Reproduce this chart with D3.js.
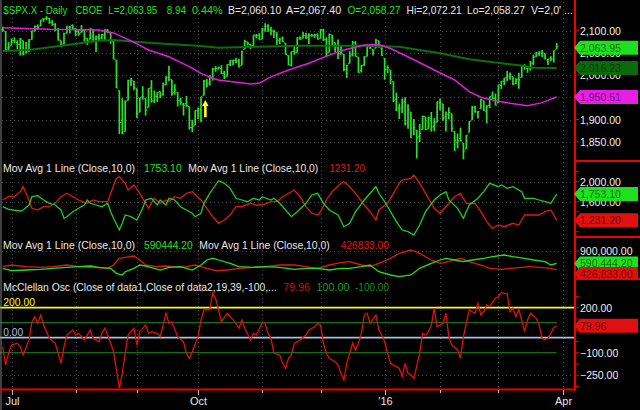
<!DOCTYPE html>
<html><head><meta charset="utf-8">
<script src="https://cdn.jsdelivr.net/npm/d3@7"></script>
<style>html,body{margin:0;padding:0;background:#000;overflow:hidden}svg{display:block}text{font-family:Arial,"Liberation Sans",sans-serif}</style>
</head><body><svg id="c" width="640" height="410"></svg>
<script>
// ---------------- DATA ----------------
const monthIndex = [3,25,46,67,89,109,131,150,170,192];
const monthLabels = ["Jul","","","Oct","","","'16","","","Apr"];

const open = [2102.6,2098.6,2061.2,2067.0,2078.0,2073.0,2069.5,2077.7,2049.7,2052.7,
2080.0,2099.7,2109.0,2110.6,2126.8,2126.9,2127.6,2118.2,2114.2,2102.2,
2078.2,2070.2,2094.7,2106.8,2111.6,2104.5,2097.7,2095.3,2100.8,2082.6,
2080.9,2102.7,2081.1,2086.2,2083.2,2089.7,2101.0,2095.7,2076.6,2034.1,
1965.2,1898.1,1872.8,1942.8,1986.1,1986.7,1970.1,1916.5,1950.8,1947.8,
1927.3,1971.5,1941.6,1951.5,1963.1,1955.1,1978.0,1995.3,1989.7,1960.8,
1961.4,1943.2,1934.8,1935.9,1929.2,1881.9,1887.1,1919.7,1921.8,1954.3,
1986.6,1982.3,1994.0,2014.0,2015.7,2015.0,2003.7,1996.5,2024.4,2031.7,
2033.1,2033.5,2021.9,2058.2,2075.1,2068.8,2066.5,2088.4,2090.0,2080.8,
2102.6,2110.6,2101.7,2098.6,2096.6,2077.2,2083.4,2072.3,2044.6,2022.1,
2053.7,2051.0,2083.7,2082.8,2089.4,2084.4,2089.3,2088.8,2090.9,2082.9,
2101.7,2080.7,2051.2,2090.4,2073.4,2061.2,2047.9,2047.3,2013.4,2025.6,
2046.5,2073.8,2040.8,2010.3,2023.2,2042.2,2063.5,2057.8,2060.5,2077.3,
2060.6,2038.2,2013.8,2011.7,1985.3,1946.0,1926.1,1927.8,1940.3,1891.7,
1916.7,1888.7,1876.2,1861.5,1877.4,1906.3,1878.8,1902.5,1885.2,1894.0,
1936.9,1935.3,1907.1,1911.7,1913.1,1873.3,1848.5,1857.1,1847.0,1833.4,
1871.4,1898.8,1927.6,1916.7,1924.4,1942.4,1917.6,1931.9,1955.0,1947.1,
1937.1,1976.6,1985.6,1994.0,1996.1,1996.9,1981.4,1991.0,1994.7,2019.3,
2015.3,2014.2,2026.9,2041.2,2047.9,2048.6,2048.6,2032.5,2037.9,2035.8,
2058.27];
const high = [2108.9,2098.6,2074.3,2082.8,2085.1,2078.6,2083.7,2077.7,2074.3,2081.3,
2100.7,2111.9,2114.1,2124.4,2128.0,2132.8,2128.9,2124.1,2116.9,2106.0,
2078.2,2095.6,2110.6,2110.5,2114.2,2105.7,2102.5,2112.7,2103.3,2082.6,
2105.4,2102.7,2089.1,2092.9,2092.5,2102.9,2103.5,2096.2,2076.6,2034.2,
1965.2,1948.0,1943.1,1989.6,1993.5,1986.7,1970.1,1948.9,1975.0,1947.8,
1970.4,1988.6,1965.3,1961.1,1963.1,1983.2,1997.3,2020.9,1989.7,1979.6,
1961.4,1949.5,1937.2,1952.9,1929.2,1899.5,1920.5,1927.2,1951.4,1989.2,
1991.6,1999.3,2016.5,2020.1,2019.0,2022.3,2009.6,2024.2,2033.5,2034.5,
2039.1,2037.0,2055.2,2079.7,2075.1,2070.4,2090.4,2092.5,2094.3,2106.2,
2116.5,2114.6,2108.8,2101.9,2096.6,2083.7,2086.9,2072.3,2044.6,2053.2,
2066.7,2085.3,2086.7,2097.1,2095.6,2094.1,2093.0,2093.3,2093.8,2103.4,
2104.3,2085.0,2093.8,2090.4,2073.4,2080.3,2067.7,2047.3,2022.9,2053.9,
2076.7,2076.4,2040.8,2022.9,2042.7,2064.7,2067.4,2057.8,2081.6,2077.3,
2062.5,2038.2,2021.9,2011.7,1985.3,1960.4,1935.7,1947.4,1950.3,1934.5,
1916.7,1901.4,1876.2,1889.9,1908.9,1906.3,1906.7,1917.0,1903.0,1940.2,
1947.2,1935.3,1918.0,1927.4,1913.1,1873.3,1868.3,1881.6,1847.0,1864.8,
1895.8,1930.7,1930.5,1918.8,1946.7,1942.4,1932.1,1951.8,1963.0,1958.3,
1978.4,1986.5,1993.7,2009.1,2006.1,1996.9,1992.7,2005.1,2022.4,2024.6,
2015.9,2032.0,2046.2,2052.4,2053.9,2056.6,2048.6,2036.0,2042.7,2055.9,
2072.21];
const low = [2097.7,2056.6,2056.3,2067.0,2071.0,2058.4,2044.0,2044.7,2049.7,2052.7,
2080.0,2098.2,2102.5,2110.6,2119.9,2123.7,2115.4,2110.9,2098.6,2077.1,
2063.5,2069.1,2094.1,2094.1,2102.1,2087.3,2088.6,2095.3,2075.5,2067.9,
2080.9,2076.5,2052.1,2078.3,2080.6,2079.3,2094.1,2070.5,2035.7,1970.9,
1867.0,1867.1,1872.8,1942.8,1975.2,1966.0,1903.1,1916.5,1944.7,1908.7,
1927.3,1937.9,1937.2,1939.2,1948.3,1954.3,1977.9,1986.7,1953.5,1955.8,
1929.2,1932.6,1908.9,1928.0,1876.9,1872.0,1887.1,1900.7,1893.7,1954.3,
1971.9,1976.4,1987.5,2007.6,2012.4,2001.8,1990.7,1996.5,2020.5,2022.3,
2026.6,2017.2,2021.9,2058.2,2066.5,2058.8,2063.1,2082.6,2079.3,2080.8,
2097.5,2097.0,2090.4,2083.7,2068.2,2069.9,2074.9,2045.7,2022.0,2019.4,
2045.9,2051.0,2078.8,2082.8,2081.4,2070.3,2086.3,2084.1,2080.4,2082.9,
2077.1,2042.4,2051.2,2066.8,2052.3,2036.5,2045.7,2008.8,1993.3,2025.6,
2042.4,2041.7,2005.3,2005.9,2020.5,2042.2,2058.7,2044.2,2060.5,2062.0,
2043.6,1989.7,2004.2,1979.1,1938.8,1918.5,1901.1,1914.4,1886.3,1878.9,
1857.8,1864.6,1812.3,1849.0,1877.4,1876.0,1878.8,1872.7,1873.7,1894.0,
1920.3,1897.3,1872.7,1900.5,1872.7,1828.5,1834.9,1850.3,1810.1,1833.4,
1871.4,1898.8,1915.1,1902.2,1924.4,1919.4,1891.0,1925.4,1945.8,1931.8,
1937.1,1968.8,1977.4,1986.8,1989.4,1977.4,1979.8,1969.3,1994.7,2012.1,
2005.2,2010.0,2022.2,2041.2,2043.1,2040.6,2034.9,2022.5,2032.0,2028.3,
2058.27];
const close = [2101.5,2057.6,2063.1,2077.4,2076.8,2068.8,2081.3,2046.7,2051.3,2076.6,
2099.6,2109.0,2107.4,2124.3,2126.6,2128.3,2119.2,2114.2,2102.2,2079.7,
2067.6,2093.3,2108.6,2108.6,2103.8,2098.0,2093.3,2099.8,2083.6,2077.6,
2104.2,2084.1,2086.1,2083.4,2091.5,2102.4,2096.9,2079.6,2035.7,1970.9,
1893.2,1867.6,1940.5,1987.7,1988.9,1972.2,1913.9,1948.9,1951.1,1921.2,
1969.4,1942.0,1952.3,1961.1,1953.0,1978.1,1995.3,1990.2,1958.0,1967.0,
1942.7,1938.8,1932.2,1931.3,1881.8,1884.1,1920.0,1923.8,1951.4,1987.1,
1979.9,1995.8,2013.4,2014.9,2017.5,2003.7,1994.2,2023.9,2033.1,2033.7,
2030.8,2018.9,2052.5,2075.2,2071.2,2065.9,2090.4,2089.4,2079.4,2104.1,
2109.8,2102.3,2099.9,2099.2,2078.6,2081.7,2075.0,2046.0,2023.0,2053.2,
2050.4,2083.6,2081.2,2089.2,2086.6,2089.1,2088.9,2090.1,2080.4,2102.6,
2079.5,2049.6,2091.7,2077.1,2063.6,2047.6,2052.2,2012.4,2021.9,2043.4,
2073.1,2041.9,2005.6,2021.2,2039.0,2064.3,2061.0,2056.5,2078.4,2063.4,
2043.9,2012.7,2016.7,1990.3,1943.1,1922.0,1923.7,1938.7,1890.3,1921.8,
1880.3,1881.3,1859.3,1869.0,1906.9,1877.1,1903.6,1883.0,1893.4,1940.2,
1939.4,1903.0,1912.5,1915.5,1880.1,1853.4,1852.2,1851.9,1829.1,1864.8,
1895.6,1926.8,1917.8,1917.8,1945.5,1921.3,1929.8,1951.7,1948.1,1932.2,
1978.4,1986.5,1993.4,2000.0,2001.8,1979.3,1989.3,1989.6,2022.2,2019.6,
2015.9,2027.2,2040.6,2049.6,2051.6,2049.8,2036.7,2035.9,2037.1,2055.01,
2063.95];
const bidAsk = ["B=2,060.10","A=2,067.40"];
const volumeText = "V=2,0' ...";

// moving averages: [barIndex, value]
const ma50 = [[0,2106.8],[16,2103],[33,2101.6],[38,2095],[44,2077],[50,2056.5],[57,2041.4],[64,2019],[68,2004],[72,1993],[74,1989],[85,1980],[88,1982],[92,1996],[98,2011.5],[105,2026.6],[112,2045],[117,2056.5],[124,2068],[129,2069],[133,2060],[140,2038],[148,2011.5],[155,1989],[160,1962.6],[164,1950],[169,1942.3],[174,1936.5],[180,1931],[185,1938],[190,1950.51]];
const ma200 = [[0,2054],[9,2056.5],[20,2066],[33,2077.5],[38,2079],[50,2073],[68,2065.5],[74,2061.7],[88,2064],[102,2066],[123,2066],[136,2064],[143,2056.5],[150,2049],[160,2035.6],[171,2026.6],[179,2020.5],[181,2016.4],[190,2016.23]];
const arrowMark = {i:69.5, top:1944, bottom:1905};

const advMA = [[0,1500],[2,1448],[6,1414],[7,1434],[9,1534],[10,1700],[12,1720],[14,1634],[16,1568],[18,1534],[20,1434],[21,1268],[22,1300],[24,1400],[26,1468],[28,1534],[29,1634],[30,1568],[32,1534],[34,1500],[36,1568],[37,1400],[38,1268],[40,1034],[41,1168],[42,1334],[44,1300],[46,1234],[48,1468],[49,1634],[51,1668],[53,1534],[54,1634],[56,1534],[57,1668],[59,1634],[61,1500],[63,1434],[65,1368],[66,1300],[68,1368],[69,1568],[71,1768],[73,1934],[74,2020],[76,1968],[78,1868],[80,1668],[82,1634],[84,1600],[86,1668],[88,1634],[89,1700],[92,1634],[93,1668],[95,1568],[97,1434],[99,1300],[101,1400],[104,1568],[106,1734],[108,1768],[110,1568],[112,1434],[115,1334],[117,1100],[119,1168],[121,1400],[124,1634],[126,1768],[128,1900],[129,1768],[131,1600],[133,1400],[135,1200],[137,1034],[139,1000],[141,934],[143,1134],[145,1400],[148,1634],[150,1734],[152,1800],[153,1634],[156,1468],[158,1268],[160,1534],[163,1668],[165,1800],[167,1968],[170,1900],[171,1934],[173,1868],[175,1900],[178,1800],[179,1668],[182,1668],[184,1634],[186,1600],[188,1568],[190,1753.1]];
const decMA = [[0,1634],[2,1700],[4,1700],[6,1800],[7,1900],[9,1634],[10,1468],[12,1434],[14,1500],[16,1500],[18,1568],[20,1700],[22,1768],[24,1700],[26,1634],[29,1568],[31,1634],[33,1600],[36,1600],[37,1768],[39,2068],[40,2100],[42,1968],[43,1834],[45,1934],[47,1768],[49,1568],[50,1468],[52,1668],[54,1568],[56,1634],[57,1600],[59,1700],[61,1668],[63,1768],[65,1800],[68,1634],[70,1468],[72,1300],[74,1168],[76,1234],[78,1334],[80,1500],[82,1500],[85,1568],[87,1534],[89,1534],[92,1600],[94,1600],[96,1700],[99,1800],[100,1834],[102,1700],[104,1500],[106,1368],[108,1334],[109,1400],[111,1634],[113,1800],[116,1968],[117,2000],[119,1900],[121,1768],[124,1534],[126,1400],[128,1234],[129,1434],[132,1568],[134,1768],[136,1968],[137,2034],[140,2068],[141,2134],[143,1968],[145,1768],[148,1468],[150,1368],[152,1500],[155,1700],[157,1768],[159,1568],[162,1568],[164,1400],[166,1200],[168,1068],[170,1134],[172,1100],[175,1168],[177,1134],[179,1334],[182,1334],[184,1334],[186,1400],[188,1434],[190,1231.2]];

const advVolMA = [[0,467500],[3,407500],[8,425000],[13,442500],[17,467500],[22,492500],[26,507500],[30,525000],[33,492500],[37,467500],[39,342500],[41,300000],[42,382500],[45,467500],[47,550000],[49,525000],[52,467500],[54,425000],[57,492500],[61,507500],[63,467500],[65,425000],[68,550000],[70,675000],[72,717500],[74,675000],[78,592500],[81,507500],[86,492500],[90,507500],[95,492500],[100,442500],[104,467500],[108,467500],[112,425000],[116,467500],[119,467500],[123,507500],[126,550000],[129,382500],[133,300000],[136,257500],[140,300000],[143,467500],[147,592500],[150,675000],[152,717500],[155,675000],[158,632500],[161,675000],[165,717500],[168,757500],[172,800000],[175,757500],[179,717500],[182,675000],[186,632500],[188,550000],[190,590444.2]];
const decVolMA = [[0,507500],[3,550000],[8,507500],[13,492500],[17,507500],[22,550000],[26,507500],[31,492500],[36,467500],[38,550000],[40,717500],[42,742500],[45,775000],[47,675000],[49,550000],[53,507500],[56,525000],[60,492500],[63,507500],[66,550000],[70,467500],[73,407500],[77,425000],[81,467500],[86,492500],[90,507500],[95,550000],[100,550000],[104,507500],[108,467500],[112,550000],[116,607500],[119,632500],[123,550000],[126,507500],[129,592500],[133,717500],[136,842500],[140,925000],[143,842500],[147,675000],[150,592500],[153,632500],[157,717500],[160,632500],[164,550000],[167,467500],[171,442500],[174,467500],[178,492500],[181,507500],[184,492500],[188,467500],[190,426833]];

const mcclellan = [[0,-60],[1,-182],[2,-104],[3,-49],[5,-37],[6,-60],[7,-115],[9,-15],[10,107],[11,140],[12,96],[13,151],[14,85],[16,-4],[18,-37],[19,-104],[20,-171],[21,-60],[22,18],[24,51],[25,18],[26,29],[28,-15],[30,51],[31,-4],[33,-27],[34,29],[35,63],[36,18],[38,-93],[39,-215],[40,-337],[41,-237],[42,-104],[43,18],[45,63],[46,-49],[47,40],[49,85],[50,29],[51,40],[53,29],[54,7],[55,85],[56,163],[57,96],[58,107],[60,7],[62,-27],[63,-104],[64,-137],[65,-93],[67,7],[68,118],[69,185],[71,185],[72,296],[73,263],[74,185],[75,107],[77,163],[78,140],[80,96],[81,63],[82,118],[83,63],[85,-15],[86,29],[87,18],[89,100],[90,96],[91,29],[92,-4],[93,-104],[95,-115],[96,-171],[97,-204],[98,-137],[99,-115],[100,-37],[102,-15],[104,18],[105,51],[107,73],[108,96],[109,85],[110,-37],[111,-104],[112,-137],[114,-160],[115,-182],[116,-237],[117,-282],[118,-171],[120,-37],[121,-82],[122,-37],[123,29],[124,151],[125,163],[126,96],[128,151],[129,51],[130,18],[131,-27],[132,-104],[133,-171],[135,-193],[136,-204],[137,-260],[138,-171],[139,-237],[140,-249],[141,-271],[143,-104],[144,29],[145,18],[146,40],[147,85],[148,196],[149,73],[151,96],[152,163],[153,7],[154,-49],[156,-82],[157,-137],[158,7],[159,96],[160,185],[162,163],[163,229],[164,151],[165,173],[166,218],[167,207],[169,263],[170,273],[171,300],[173,291],[174,173],[175,196],[176,140],[177,189],[178,118],[179,40],[180,118],[181,163],[183,129],[184,85],[185,-4],[186,-15],[187,-4],[188,29],[189,69],[190,79.96]];
const mccLevels = [200,100,0,-100];

const priceTicks = [1850,1900,1950,2000,2050,2100];
const priceLabelTicks = [1850,1900,2000,2050,2100];
const advTicks = [1000,1200,1400,1600,1800,2000,2200,2400];
const advLabelTicks = [1600,2000];
const volTicks = [300000,600000,900000];
const volLabelTicks = [900000];
const mccTicks = [-325,-250,-175,-100,-25,50,125,200,275];
const mccLabelTicks = [-250,-100,200];

// ---------------- CHART ----------------
const svg = d3.select("#c");
svg.append("rect").attr("width",640).attr("height",410).attr("fill","#000");
const R = 574;
const panels = [{t:0,b:161},{t:161,b:237},{t:237,b:279},{t:279,b:389}];
const defs = svg.append("defs");
panels.forEach((p,k)=>{
  defs.append("clipPath").attr("id","cp"+k).append("rect").attr("x",0).attr("y",p.t).attr("width",R).attr("height",p.b-p.t);
  defs.append("clipPath").attr("id","cr"+k).append("rect").attr("x",R).attr("y",p.t).attr("width",640-R).attr("height",p.b-p.t);
});

const xS = d3.scaleLinear().domain([3,190]).range([11.5,556.7]);
const yP = d3.scaleLinear().domain([1850,2100]).range([141.7,30.7]);
const yA = d3.scaleLinear().domain([1600,2000]).range([201.7,181.7]);
const yV = d3.scaleLinear().domain([600000,900000]).range([263,251]);
const yM = d3.scaleLinear().domain([-100,200]).range([352.7,307.7]);

const fmt = d3.format(",.2f");
const grid = svg.append("g").attr("stroke","#4a4a4a").attr("stroke-width",1).attr("stroke-dasharray","1,3");
monthIndex.forEach(i=>{
  grid.append("line").attr("x1",Math.round(xS(i))+0.5).attr("x2",Math.round(xS(i))+0.5).attr("y1",2).attr("y2",389);
});
const hgrid = (vals, sc) => vals.forEach(v=>grid.append("line").attr("x1",2).attr("x2",R).attr("y1",Math.round(sc(v))+0.5).attr("y2",Math.round(sc(v))+0.5));
hgrid(priceTicks, yP);
hgrid(advLabelTicks, yA);
hgrid([900000], yV);
hgrid([-250], yM);

// ---- price panel ----
const gP = svg.append("g").attr("clip-path","url(#cp0)");
const bars = gP.append("g").attr("stroke","#2ae02a").attr("stroke-width",1.7);
close.forEach((c,i)=>{
  const x = xS(i);
  bars.append("line").attr("x1",x).attr("x2",x).attr("y1",yP(high[i])).attr("y2",yP(low[i]));
  bars.append("line").attr("x1",x-1.5).attr("x2",x).attr("y1",yP(open[i])).attr("y2",yP(open[i])).attr("stroke-width",1);
  bars.append("line").attr("x1",x).attr("x2",x+1.5).attr("y1",yP(c)).attr("y2",yP(c)).attr("stroke-width",1);
});
const lineP = d3.line().x(d=>xS(d[0])).y(d=>yP(d[1]));
gP.append("path").attr("d",lineP(ma200)).attr("fill","none").attr("stroke","#0d6e0d").attr("stroke-width",2);
gP.append("path").attr("d",lineP(ma50)).attr("fill","none").attr("stroke","#e01ee0").attr("stroke-width",1.5);
{
  const ax = xS(arrowMark.i), at = yP(arrowMark.top), ab = yP(arrowMark.bottom);
  gP.append("path").attr("fill","#ffff22")
    .attr("d",`M${ax},${at} L${ax+3.2},${at+6} L${ax+1.3},${at+6} L${ax+1.3},${ab} L${ax-1.3},${ab} L${ax-1.3},${at+6} L${ax-3.2},${at+6} Z`);
}

// ---- adv/dec issues ----
const g2 = svg.append("g").attr("clip-path","url(#cp1)");
const lA = d3.line().x(d=>xS(d[0])).y(d=>yA(d[1]));
g2.append("path").attr("d",lA(decMA)).attr("fill","none").attr("stroke","#dd1a1a").attr("stroke-width",1.3);
g2.append("path").attr("d",lA(advMA)).attr("fill","none").attr("stroke","#22cc22").attr("stroke-width",1.3);

// ---- adv/dec volume ----
const g3 = svg.append("g").attr("clip-path","url(#cp2)");
const lV = d3.line().x(d=>xS(d[0])).y(d=>yV(d[1]));
g3.append("path").attr("d",lV(decVolMA)).attr("fill","none").attr("stroke","#dd1a1a").attr("stroke-width",1.3);
g3.append("path").attr("d",lV(advVolMA)).attr("fill","none").attr("stroke","#22dd22").attr("stroke-width",1.3);

// ---- McClellan ----
const g4 = svg.append("g").attr("clip-path","url(#cp3)");
const lastX = xS(mcclellan[mcclellan.length-1][0]);
const levelStyle = {"200":["#ffff00",1.8,R],"100":["#1a8a1a",1,lastX],"0":["#a9bfe0",1.8,R],"-100":["#1a8a1a",1,lastX]};
mccLevels.forEach(v=>{
  const s = levelStyle[String(v)];
  g4.append("line").attr("x1",0).attr("x2",s[2]).attr("y1",yM(v)).attr("y2",yM(v)).attr("stroke",s[0]).attr("stroke-width",s[1]);
});
const lM = d3.line().x(d=>xS(d[0])).y(d=>yM(d[1]));
g4.append("path").attr("d",lM(mcclellan)).attr("fill","none").attr("stroke","#e01010").attr("stroke-width",1.3);

// ---- frame ----
svg.append("line").attr("x1",1).attr("x2",1).attr("y1",0).attr("y2",410).attr("stroke","#808080").attr("stroke-width",1);
svg.append("line").attr("x1",0).attr("x2",R+1).attr("y1",389.5).attr("y2",389.5).attr("stroke","#ee0000").attr("stroke-width",2);
svg.append("line").attr("x1",R+1).attr("x2",R+1).attr("y1",0).attr("y2",390.5).attr("stroke","#ee0000").attr("stroke-width",2);
[161,237,279].forEach(y=>svg.append("line").attr("x1",R).attr("x2",640).attr("y1",y).attr("y2",y).attr("stroke","#ee0000").attr("stroke-width",2));

// x axis ticks / labels
monthIndex.forEach((i,k)=>{
  const x = Math.round(xS(i))+0.5;
  svg.append("line").attr("x1",x).attr("x2",x).attr("y1",390).attr("y2",monthLabels[k]?395:393).attr("stroke","#bbbbbb");
  if (monthLabels[k]) svg.append("text").attr("x",x).attr("y",405).attr("text-anchor","middle").attr("fill","#e6e6e6").attr("font-size","11px").text(monthLabels[k]);
});

// right axis
function rightAxis(k, sc, ticks, labels) {
  const g = svg.append("g").attr("clip-path","url(#cr"+k+")");
  ticks.forEach(v=>g.append("line").attr("x1",R).attr("x2",R+5).attr("y1",sc(v)).attr("y2",sc(v)).attr("stroke","#ee0000").attr("stroke-width",1));
  labels.forEach(v=>g.append("text").attr("x",580).attr("y",sc(v)+4).attr("fill","#eeeeee").attr("font-size","10.5px").text(fmt(v)));
  return g;
}
const ax1 = rightAxis(0, yP, priceTicks, priceLabelTicks);
const ax2 = rightAxis(1, yA, advTicks, advLabelTicks);
const ax3 = rightAxis(2, yV, volTicks, volLabelTicks);
const ax4 = rightAxis(3, yM, mccTicks, mccLabelTicks);

function tag(g, y, fill, label) {
  g.append("path").attr("fill",fill).attr("d",`M${R},${y} L${R+6},${y-7} L638,${y-7} L638,${y+7} L${R+6},${y+7} Z`);
  g.append("text").attr("x",580).attr("y",y+4).attr("fill","#000").attr("fill-opacity",0.55).attr("font-size","10.5px").text(label);
}
const lastI = close.length-1;
tag(ax1, yP(close[lastI])+1, "#1ee01e", fmt(close[lastI]));
tag(ax1, yP(ma200[ma200.length-1][1]), "#0b6b0b", fmt(ma200[ma200.length-1][1]));
tag(ax1, yP(ma50[ma50.length-1][1]), "#e61ee6", fmt(ma50[ma50.length-1][1]));
tag(ax2, yA(advMA[advMA.length-1][1]), "#1ee01e", fmt(advMA[advMA.length-1][1]));
tag(ax2, yA(decMA[decMA.length-1][1]), "#e01010", fmt(decMA[decMA.length-1][1]));
const gy = yV(advVolMA[advVolMA.length-1][1]);
tag(ax3, gy, "#1ee01e", fmt(advVolMA[advVolMA.length-1][1]));
tag(ax3, Math.max(yV(decVolMA[decVolMA.length-1][1]), gy+10.5), "#e01010", fmt(decVolMA[decVolMA.length-1][1]));
tag(ax4, yM(mcclellan[mcclellan.length-1][1]), "#e01010", fmt(mcclellan[mcclellan.length-1][1]));

// ---- texts ----
function txt(x,y,s,color,size,len){
  const t = svg.append("text").attr("x",x).attr("y",y).attr("fill",color).attr("font-size",size||"11px").text(s);
  if (len) t.attr("textLength",len).attr("lengthAdjust","spacingAndGlyphs");
}
const G="#22e022", Wt="#e8e8e8";
const chg = close[lastI]-close[lastI-1];
txt(3.3,13.5,"$SPX.X - Daily",G,"11px",64);
txt(75.6,13.5,"CBOE",G,"11px",26.6);
txt(108.3,13.5,"L="+fmt(close[lastI]),G,"11px",49);
txt(166.7,13.5,d3.format(".2f")(chg),G,"11px",19.3);
txt(192,13.5,d3.format(".2f")(chg/close[lastI-1]*100)+"%",G,"11px",30.7);
txt(228,13.5,bidAsk[0],Wt,"11px",53.2);
txt(286,13.5,bidAsk[1],Wt,"11px",55.2);
txt(347.4,13.5,"O="+fmt(open[lastI]),G,"11px",53.1);
txt(406.6,13.5,"Hi="+fmt(high[lastI]),Wt,"11px",55.2);
txt(467,13.5,"Lo="+fmt(low[lastI]),Wt,"11px",58);
txt(531,13.5,volumeText,Wt,"11px",42);

txt(3,171.5,"Mov Avg 1 Line (Close,10,0)",Wt,"10.5px",132);
txt(144,171.5,d3.format(".2f")(advMA[advMA.length-1][1]),G,"10.5px",37.7);
txt(188.3,171.5,"Mov Avg 1 Line (Close,10,0)",Wt,"10.5px",130);
txt(329.3,171.5,d3.format(".2f")(decMA[decMA.length-1][1]),"#e01515","10.5px",35.7);

txt(3,249,"Mov Avg 1 Line (Close,10,0)",Wt,"10.5px",132);
txt(144,249,d3.format(".2f")(advVolMA[advVolMA.length-1][1]),G,"10.5px",48.7);
txt(199.3,249,"Mov Avg 1 Line (Close,10,0)",Wt,"10.5px",130.5);
txt(340.7,249,d3.format(".2f")(decVolMA[decVolMA.length-1][1]),"#e01515","10.5px",48.3);

txt(3.3,290.5,"McClellan Osc (Close of data1,Close of data2,19,39,-100,...",Wt,"10.5px",273.4);
txt(283.3,290.5,d3.format(".2f")(mcclellan[mcclellan.length-1][1]),"#cc1010","10.5px",26.7);
txt(316.5,290.5,"100.00","#1a9a1a","10.5px",33);
txt(355,290.5,"-100.00","#1a8a1a","10.5px",34);
txt(3.3,305.5,"200.00","#ffff00","10.5px",31.7);
txt(3.3,335.5,"0.00","#a9bfe0","10.5px",20);
</script></body></html>
